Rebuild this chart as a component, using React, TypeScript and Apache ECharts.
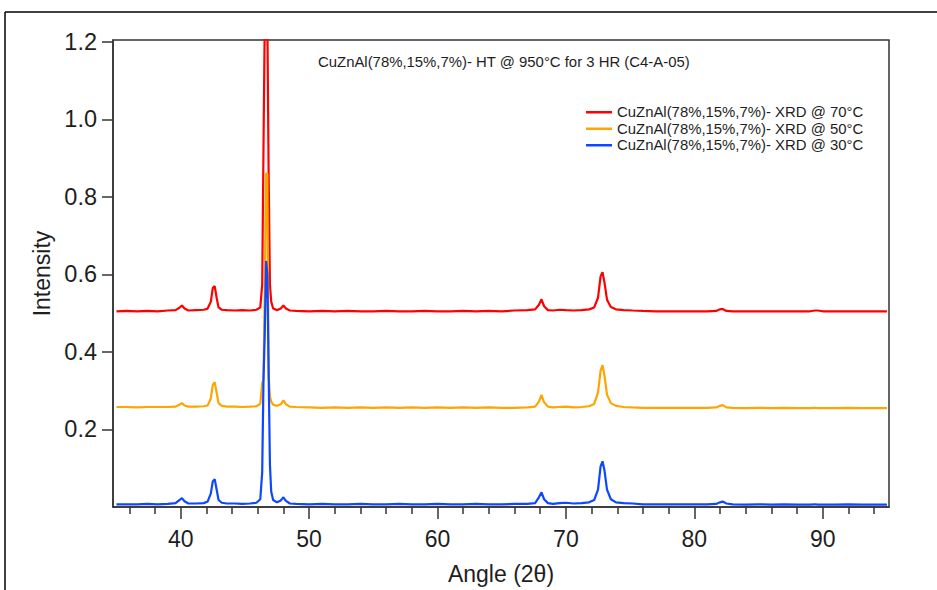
import React, { useEffect, useRef } from "react";
import * as echarts from "echarts";

const angles = [
  35, 35.8, 36.6, 37.4, 38.2, 39.0, 39.6, 39.9, 40.1, 40.3,
  40.6, 41.2, 41.8, 42.1, 42.35, 42.5, 42.65, 42.8, 42.95, 43.2,
  43.6, 44.2, 44.8, 45.4, 45.9, 46.2, 46.35, 46.45, 46.55, 46.65,
  46.75, 46.85, 46.95, 47.05, 47.2, 47.5, 47.8, 48.0, 48.2, 48.5,
  49.0, 50, 51, 52, 53, 54, 55, 56, 57, 58,
  59, 60, 61, 62, 63, 64, 65, 66, 67, 67.6,
  67.9, 68.1, 68.3, 68.6, 69.0, 69.5, 70.0, 70.6, 71.2, 71.8,
  72.2, 72.5, 72.7, 72.85, 73.0, 73.2, 73.5, 73.9, 74.5, 75.2,
  76, 77, 78, 79, 80, 81, 81.7, 82.0, 82.2, 82.5,
  83, 84, 85, 86, 87, 88, 89, 89.4, 89.6, 90,
  91, 92, 93, 94, 95,
];

const xrd70 = [
  0.505, 0.506, 0.505, 0.506, 0.505, 0.507, 0.508, 0.514, 0.520, 0.512,
  0.507, 0.508, 0.509, 0.512, 0.530, 0.565, 0.570, 0.540, 0.515, 0.509,
  0.508, 0.507, 0.508, 0.507, 0.509, 0.515, 0.575, 0.930, 1.260, 1.260,
  1.260, 0.860, 0.575, 0.530, 0.512, 0.508, 0.512, 0.520, 0.512, 0.507,
  0.506, 0.505, 0.506, 0.505, 0.506, 0.505, 0.505, 0.506, 0.505, 0.505,
  0.506, 0.505, 0.505, 0.506, 0.505, 0.506, 0.505, 0.507, 0.508, 0.510,
  0.522, 0.536, 0.518, 0.508, 0.507, 0.509, 0.508, 0.507, 0.508, 0.510,
  0.515, 0.540, 0.595, 0.606, 0.580, 0.535, 0.516, 0.510, 0.508, 0.507,
  0.506, 0.505, 0.505, 0.505, 0.505, 0.505, 0.506, 0.510, 0.511, 0.506,
  0.505, 0.505, 0.505, 0.505, 0.505, 0.505, 0.505, 0.507, 0.507, 0.505,
  0.505, 0.505, 0.505, 0.505, 0.505,
];

const xrd50 = [
  0.258, 0.258, 0.257, 0.258, 0.258, 0.258, 0.259, 0.264, 0.268, 0.262,
  0.259, 0.259, 0.260, 0.262, 0.280, 0.315, 0.322, 0.295, 0.268, 0.261,
  0.259, 0.259, 0.258, 0.259, 0.260, 0.266, 0.320, 0.330, 0.560, 0.860,
  0.860, 0.340, 0.285, 0.272, 0.264, 0.261, 0.265, 0.275, 0.265, 0.259,
  0.258, 0.257, 0.256, 0.257, 0.256, 0.257, 0.256, 0.257, 0.256, 0.257,
  0.256, 0.257, 0.256, 0.257, 0.256, 0.257, 0.256, 0.256, 0.257, 0.259,
  0.272, 0.289, 0.270, 0.259, 0.257, 0.258, 0.259, 0.257, 0.258, 0.260,
  0.266, 0.295, 0.352, 0.366, 0.340, 0.290, 0.268, 0.261, 0.258, 0.257,
  0.256, 0.256, 0.256, 0.256, 0.256, 0.256, 0.257, 0.261, 0.263, 0.257,
  0.256, 0.255, 0.256, 0.255, 0.256, 0.255, 0.255, 0.256, 0.255, 0.255,
  0.255, 0.256, 0.255, 0.255, 0.255,
];

const xrd30 = [
  0.007, 0.007, 0.007, 0.008, 0.007, 0.008, 0.010, 0.018, 0.023, 0.015,
  0.009, 0.009, 0.010, 0.014, 0.035, 0.066, 0.072, 0.045, 0.018, 0.011,
  0.009, 0.009, 0.008, 0.009, 0.011, 0.020, 0.090, 0.330, 0.450, 0.635,
  0.600, 0.350, 0.110, 0.040, 0.018, 0.012, 0.017, 0.025, 0.016, 0.009,
  0.008, 0.007, 0.008, 0.007, 0.007, 0.008, 0.007, 0.007, 0.008, 0.007,
  0.007, 0.008, 0.007, 0.007, 0.008, 0.007, 0.007, 0.008, 0.008, 0.010,
  0.025, 0.038, 0.020, 0.010, 0.008, 0.010, 0.011, 0.009, 0.010, 0.012,
  0.018, 0.045, 0.105, 0.118, 0.095, 0.045, 0.020, 0.012, 0.010, 0.009,
  0.007, 0.007, 0.007, 0.007, 0.007, 0.007, 0.008, 0.012, 0.014, 0.009,
  0.007, 0.006, 0.007, 0.006, 0.007, 0.006, 0.006, 0.007, 0.006, 0.006,
  0.006, 0.007, 0.006, 0.006, 0.006,
];

const seriesNames = [
  "CuZnAl(78%,15%,7%)- XRD @ 70°C",
  "CuZnAl(78%,15%,7%)- XRD @ 50°C",
  "CuZnAl(78%,15%,7%)- XRD @ 30°C",
];
const seriesColors = ["#ff0000", "#ffa500", "#0d47ff"];
const seriesValues = [xrd70, xrd50, xrd30];

const chartTitle = "CuZnAl(78%,15%,7%)- HT @ 950°C for 3 HR (C4-A-05)";
const xMajorTicks = [40, 50, 60, 70, 80, 90];
const xMinorTicks = [36, 38, 42, 44, 46, 48, 52, 54, 56, 58, 62, 64, 66, 68, 72, 74, 76, 78, 82, 84, 86, 88, 92, 94];
const yTicks = [0.2, 0.4, 0.6, 0.8, 1.0, 1.2];

const FONT = "'Liberation Sans', Arial, sans-serif";
const TXT = "#1e1e1e";
const AX = "#333";

export default function App() {
  const ref = useRef<HTMLDivElement>(null);
  useEffect(() => {
    if (!ref.current) return;
    const chart = echarts.init(ref.current, undefined, { renderer: "svg" });
    const xMin = 34.73;
    const xMax = 95.16;
    chart.setOption({
      animation: false,
      backgroundColor: "#fff",
      textStyle: { fontFamily: FONT },
      title: {
        text: chartTitle,
        left: 318,
        top: 54,
        padding: 0,
        textStyle: { fontSize: 14.9, fontWeight: "normal", color: TXT, fontFamily: FONT },
      },
      legend: {
        orient: "vertical",
        left: 586,
        top: 104,
        padding: 0,
        icon: "rect",
        itemWidth: 26,
        itemHeight: 2.5,
        itemGap: 0,
        textStyle: { fontSize: 14.9, lineHeight: 16.5, color: TXT, fontFamily: FONT },
        data: seriesNames,
      },
      grid: {
        left: 113,
        top: 40,
        width: 776,
        height: 468,
        show: true,
        borderColor: AX,
        borderWidth: 1.5,
        backgroundColor: "transparent",
      },
      xAxis: [
        {
          type: "value",
          min: xMin,
          max: xMax,
          position: "bottom",
          name: "Angle (2θ)",
          nameLocation: "middle",
          nameGap: 55,
          nameTextStyle: { fontSize: 23, color: TXT, fontFamily: FONT },
          axisLine: { show: true, lineStyle: { color: AX, width: 1.5 } },
          axisTick: { show: true, length: 12, customValues: xMajorTicks, lineStyle: { color: AX, width: 1.5 } },
          axisLabel: { customValues: xMajorTicks, fontSize: 23, color: TXT, margin: 20, fontFamily: FONT },
          splitLine: { show: false },
        },
        {
          type: "value",
          min: xMin,
          max: xMax,
          position: "bottom",
          axisLine: { show: false },
          axisTick: { show: true, length: 7, customValues: xMinorTicks, lineStyle: { color: AX, width: 1.5 } },
          axisLabel: { show: false },
          splitLine: { show: false },
        },
      ],
      yAxis: {
        type: "value",
        min: 0,
        max: 1.205,
        name: "Intensity",
        nameLocation: "middle",
        nameGap: 60,
        nameTextStyle: { fontSize: 23, color: TXT, fontFamily: FONT },
        axisLine: { show: true, lineStyle: { color: AX, width: 1.5 } },
        axisTick: { show: true, length: 11, customValues: yTicks, lineStyle: { color: AX, width: 1.5 } },
        axisLabel: {
          customValues: yTicks,
          fontSize: 23.5,
          color: TXT,
          margin: 16,
          fontFamily: FONT,
          formatter: (v: number) => v.toFixed(1),
        },
        splitLine: { show: false },
      },
      graphic: [
        { type: "line", shape: { x1: 5, y1: 12, x2: 937, y2: 12 }, style: { stroke: "#000", lineWidth: 1.5 } },
        { type: "line", shape: { x1: 5, y1: 12, x2: 5, y2: 590 }, style: { stroke: "#000", lineWidth: 1.5 } },
      ],
      series: seriesNames.map((name, i) => ({
        name,
        type: "line",
        xAxisIndex: 0,
        symbol: "none",
        clip: true,
        color: seriesColors[i],
        itemStyle: { color: seriesColors[i] },
        lineStyle: { color: seriesColors[i], width: 2.2 },
        data: angles.map((a, j) => [a, seriesValues[i][j]]),
        z: 2 + i,
      })),
    });
    return () => chart.dispose();
  }, []);
  return (
    <div
      ref={ref}
      style={{ position: "fixed", left: 0, top: 0, width: 937, height: 590 }}
    />
  );
}
